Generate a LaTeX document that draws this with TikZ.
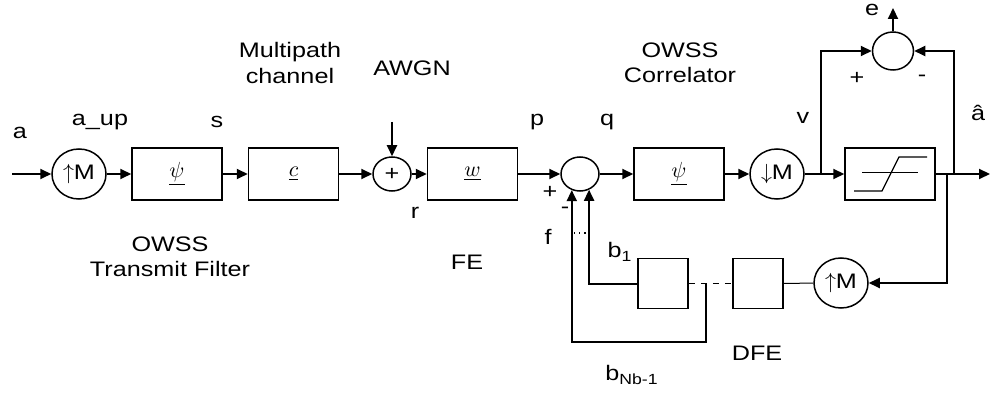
\documentclass[tikz,border=0pt]{standalone}
\usepackage{fontspec}
\setmainfont{Liberation Sans}[FakeStretch=1.2]
\usetikzlibrary{arrows.meta,positioning,calc,shapes.geometric}
\tikzset{
  blk/.style={draw, line width=0.75pt, minimum width=45pt, minimum height=26pt, inner sep=0pt},
  tapbox/.style={draw, line width=0.75pt, minimum size=25pt, inner sep=0pt},
  rate/.style={draw, ellipse, line width=0.75pt, minimum width=27pt, minimum height=25pt, inner sep=0pt},
  sumc/.style={draw, ellipse, line width=0.75pt, minimum width=19pt, minimum height=17pt, inner sep=0pt},
  sig/.style={line width=1pt, -{Triangle[length=5.5pt,width=5pt]}},
  lbl/.style={inner sep=0pt}
}
\begin{document}
\begin{tikzpicture}[x=0.5pt, y=-0.5pt, every node/.append style={font=\fontsize{10.5}{12.6}\selectfont}]
\useasboundingbox (0,0) rectangle (990,395);
% forward path
\coordinate (in) at (12,174);
\node[rate] (up) at (79,174) {$\uparrow$M};
\node[blk] (psi) at (177,174) {$\underline{\psi}$};
\node[blk] (chan) at (293.5,174) {$\underline{c}$};
\node[sumc] (add) at (392,174) {+};
\coordinate (noise) at (392,122);
\node[blk] (fe) at (472.5,174) {$\underline{w}$};
\node[sumc] (sub) at (580,174) {};
\node[blk] (corr) at (679,174) {$\underline{\psi}$};
\node[rate] (down) at (777,174) {$\downarrow$M};
\node[blk] (quant) at (890,174) {};
\coordinate (out) at (990,174);
% error
\node[sumc, minimum width=20.5pt, minimum height=19pt] (err) at (893,51) {};
\coordinate (eout) at (893,8);
\coordinate (vb) at (821,174);
\coordinate (ab) at (954,174);
\coordinate (fb) at (947,174);
% feedback filter
\node[rate] (upfb) at (841,283) {$\uparrow$M};
\node[tapbox] (d2) at (758,283.5) {};
\node[tapbox] (d1) at (663,283.5) {};
\coordinate (tapN) at (706,283.5);
\coordinate (tapNlow) at (706,342);
\coordinate (dotl) at (574,233);
\coordinate (dotr) at (587,233);

\draw[sig] (in) -- (up);
\draw[sig] (up) -- (psi);
\draw[sig] (psi) -- (chan);
\draw[sig] (chan) -- (add);
\draw[sig] (noise) -- (add);
\draw[sig] (add) -- (fe);
\draw[sig] (fe) -- (sub);
\draw[sig] (sub) -- (corr);
\draw[sig] (corr) -- (down);
\draw[sig] (down) -- (quant);
\draw[sig] (quant) -- (out);
\draw[sig] (vb) |- (err);
\draw[sig] (ab) |- (err);
\draw[sig] (err) -- (eout);
\draw[sig] (fb) |- (upfb);
\draw[line width=0.5pt] (upfb) -- (d2);
\draw[line width=0.5pt, dashed] (d1) -- (d2);
\draw[sig] (d1) -| (sub.-60);
\draw[sig] (tapN) -- (tapNlow) -| (sub.-117);
\draw[line width=0.6pt, dotted] (dotl) -- (dotr);
% limiter symbol
\draw[line width=0.5pt] (862,173) -- (918,173);
\draw[line width=0.6pt] (854,191) -- (882,191) -- (899,157) -- (927,157);

% labels
\node[lbl] at (20,133) {a};
\node[lbl] at (100,122) {a\_up};
\node[lbl] at (217,122) {s};
\node[lbl] at (415,213) {r};
\node[lbl] at (537,122) {p};
\node[lbl] at (607,122) {q};
\node[lbl] at (550,192) {+};
\node[lbl] at (565,210) {-};
\node[lbl] at (548,237) {f};
\node[lbl] at (620,252) {b\textsubscript{1}};
\node[lbl] at (803,118) {v};
\node[lbl] at (857,78) {+};
\node[lbl] at (922,78) {-};
\node[lbl] at (872,10) {e};
\node[lbl] at (978,113) {â};
\node[lbl] at (757,353) {DFE};
\node[lbl] at (632,375) {b\textsubscript{Nb-1}};
\node[lbl] at (467,262) {FE};
\node[lbl, align=center] at (170,257) {OWSS\\Transmit Filter};
\node[lbl, align=center] at (290,63) {Multipath\\channel};
\node[lbl] at (412,68) {AWGN};
\node[lbl, align=center] at (680,63) {OWSS\\Correlator};
\end{tikzpicture}
\end{document}
